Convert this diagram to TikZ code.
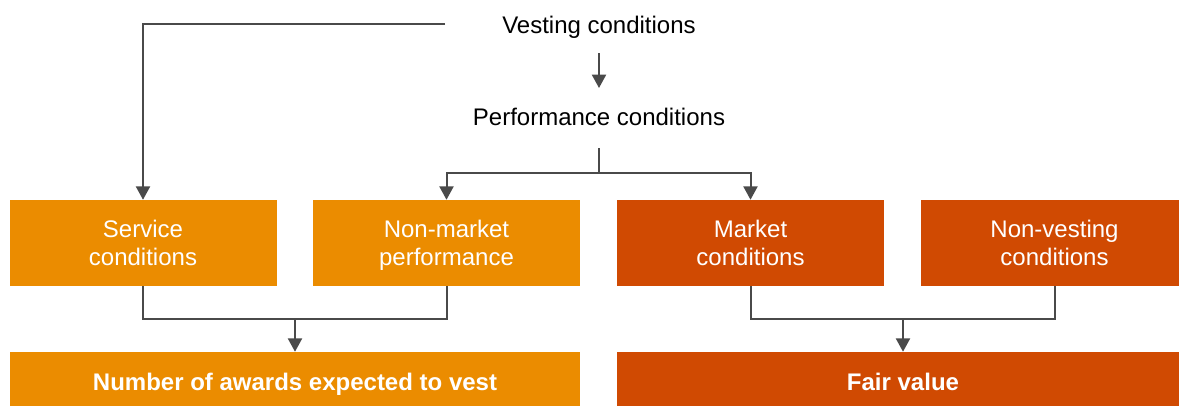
\documentclass[tikz,border=0pt]{standalone}
\usepackage{fontspec}
\setmainfont{Liberation Sans}
\usetikzlibrary{arrows.meta}
\definecolor{lightor}{HTML}{EB8C00}
\definecolor{darkor}{HTML}{D04A02}
\definecolor{conn}{HTML}{4A4A4A}
\begin{document}
\begin{tikzpicture}[x=0.75pt,y=-0.75pt,
  label/.style={font=\fontsize{18}{21}\selectfont, text=black, inner sep=0pt, text depth=0pt},
  condbox/.style={fill=#1, text=white, draw=none, align=center,
    minimum width=200.25pt, minimum height=64.5pt, inner sep=0pt, text depth=0pt,
    font=\fontsize{18}{21}\selectfont},
  resbox/.style={fill=#1, text=white, draw=none, align=center,
    minimum height=45pt, inner sep=0pt, text depth=0pt,
    font=\fontsize{18}{21}\selectfont\bfseries},
  link/.style={draw=conn, line width=1.5pt},
  arr/.style={link, -{Triangle[width=10.5pt,length=10pt]}}]
\useasboundingbox (0,0) rectangle (1179,405);
\clip (0,0) rectangle (1179,405);

% headings
\node[label] (vest) at (599,25) {Vesting conditions};
\node[label] (perf) at (599,117) {Performance conditions};

% condition boxes
\node[condbox=lightor] (serv) at (143,243) {Service\\conditions};
\node[condbox=lightor] (nonm) at (446.5,243) {Non-market\\performance};
\node[condbox=darkor]  (mkt)  at (750.5,243) {Market\\conditions};
\node[condbox=darkor]  (nonv) at (1054.5,243) {Non-vesting\\conditions};

% outcome boxes
\node[resbox=lightor, minimum width=427.5pt] (num) at (295,382) {Number of awards expected to vest};
\node[resbox=darkor, minimum width=429pt] (fair) at (903,382) {Fair value};

% branch points
\coordinate (vl) at (445,24);
\coordinate (va) at (599,53);
\coordinate (vb) at (599,88);
\coordinate (pa) at (599,148);
\coordinate (pj) at (599,173);
\coordinate (jl) at (295,319);
\coordinate (jr) at (903,319);

% connectors
\draw[arr] (vl) -| (serv.north);
\draw[arr] (va) -- (vb);
\draw[link] (pa) -- (pj);
\draw[arr] (pj) -| (nonm.north);
\draw[arr] (pj) -| (mkt.north);
\draw[link] (serv.south) |- (jl) -| (nonm.south);
\draw[arr] (jl) -- (num.north);
\draw[link] (mkt.south) |- (jr) -| (nonv.south);
\draw[arr] (jr) -- (fair.north);
\end{tikzpicture}
\end{document}
